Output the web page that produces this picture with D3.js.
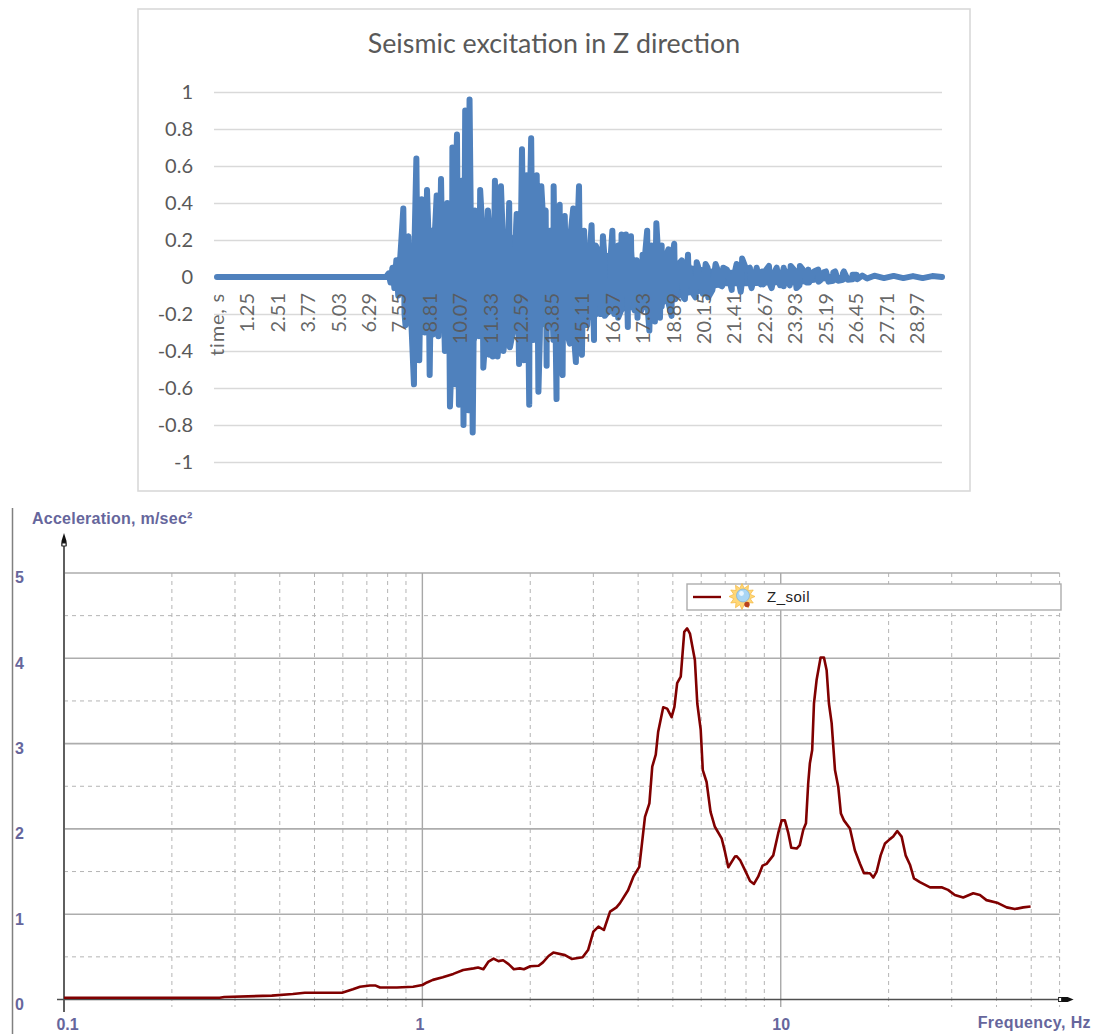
<!DOCTYPE html>
<html>
<head>
<meta charset="utf-8">
<style>
  html, body { margin: 0; padding: 0; background: #fff; }
  svg { display: block; }
</style>
<script src="https://cdn.jsdelivr.net/npm/d3@7"></script>
</head>
<body>
<div id="wrapper"></div>
<script>
// Seismic excitation, values
const quietTime = [0, 3.5, 7.0];
const quietValue = [0, 0, 0];
const onsetTime = [7.1, 7.18, 7.26, 7.34, 7.42, 7.5, 7.58];
const onsetValue = [0.02, -0.03, 0.05, -0.06, 0.09, -0.1, 0.1];
// tallest spikes above zero
const upTime = [7.71, 7.92, 8.25, 8.47, 8.69, 8.88, 9.09, 9.27, 9.53, 9.74, 9.93, 10.12, 10.27, 10.45, 10.67, 10.89, 11.21, 11.5, 11.75, 12.09, 12.4, 12.62, 12.81, 13.0, 13.23, 13.42, 13.6, 13.93, 14.18, 14.39, 14.74, 14.98, 15.19, 15.5, 15.67, 15.97, 16.36, 16.6, 16.74, 16.92, 17.13, 17.36, 17.61, 17.8, 17.98, 18.18, 18.4, 18.68, 18.92, 19.23, 19.49, 19.85, 20.22, 20.63, 20.95, 21.5, 21.73, 22.05, 22.33, 22.56, 22.84, 23.16, 23.45, 23.74, 24.12, 24.47, 24.88, 25.2, 25.58, 25.94, 26.47];
const upValue = [0.37, 0.22, 0.64, 0.42, 0.47, 0.25, 0.44, 0.53, 0.4, 0.7, 0.77, 0.52, 0.9, 0.96, 0.36, 0.47, 0.36, 0.52, 0.49, 0.4, 0.34, 0.69, 0.55, 0.75, 0.55, 0.49, 0.36, 0.49, 0.39, 0.33, 0.37, 0.49, 0.25, 0.28, 0.17, 0.22, 0.25, 0.17, 0.23, 0.23, 0.22, 0.09, 0.12, 0.25, 0.17, 0.29, 0.17, 0.15, 0.18, 0.09, 0.12, 0.08, 0.07, 0.07, 0.05, 0.07, 0.1, 0.05, 0.05, 0.03, 0.06, 0.05, 0.05, 0.06, 0.06, 0.04, 0.04, 0.03, 0.03, 0.03, 0.012];
// deepest spikes below zero
const downTime = [7.8, 8.15, 8.37, 8.8, 8.95, 9.43, 9.64, 9.85, 10.01, 10.2, 10.4, 10.58, 10.77, 11.02, 11.27, 11.41, 11.61, 11.85, 12.12, 12.5, 12.7, 12.92, 13.3, 13.64, 14.05, 14.3, 14.6, 14.85, 15.1, 15.6, 16.05, 16.26, 16.6, 17.0, 17.4, 17.89, 18.12, 18.33, 18.81, 19.36, 19.8, 20.33, 20.75, 21.3, 21.67, 22.12, 22.6, 22.95, 23.45, 23.98, 24.4, 24.95, 25.5, 25.9, 26.3];
const downValue = [-0.26, -0.58, -0.45, -0.53, -0.31, -0.4, -0.7, -0.58, -0.69, -0.8, -0.72, -0.84, -0.25, -0.49, -0.42, -0.43, -0.43, -0.4, -0.38, -0.47, -0.45, -0.69, -0.62, -0.48, -0.66, -0.53, -0.36, -0.46, -0.42, -0.34, -0.21, -0.18, -0.22, -0.27, -0.22, -0.29, -0.24, -0.22, -0.21, -0.12, -0.11, -0.11, -0.04, -0.07, -0.08, -0.06, -0.04, -0.06, -0.05, -0.06, -0.03, -0.02, -0.02, -0.015, -0.012];
// dense oscillation between the spikes
const bodyTime = [7.62, 7.76, 7.9, 8.04, 8.18, 8.32, 8.46, 8.6, 8.74, 8.88, 9.02, 9.16, 9.3, 9.44, 9.58, 9.72, 9.86, 10.0, 10.14, 10.28, 10.42, 10.56, 10.7, 10.84, 10.98, 11.12, 11.26, 11.4, 11.54, 11.68, 11.82, 11.96, 12.1, 12.24, 12.38, 12.52, 12.66, 12.8, 12.94, 13.08, 13.22, 13.36, 13.5, 13.64, 13.78, 13.92, 14.06, 14.2, 14.34, 14.48, 14.62, 14.76, 14.9, 15.04, 15.18, 15.32, 15.46, 15.6, 15.74, 15.88, 16.02, 16.16, 16.3, 16.44, 16.58, 16.72, 16.86, 17.0, 17.14, 17.28, 17.42, 17.56, 17.7, 17.84, 17.98, 18.12, 18.26, 18.4, 18.54, 18.68, 18.82, 18.96, 19.1, 19.3, 19.5, 19.7, 19.9, 20.1, 20.3, 20.5, 20.7, 20.9, 21.1, 21.3, 21.5, 21.7, 21.9, 22.1, 22.3, 22.5, 22.7, 22.9, 23.1, 23.3, 23.5, 23.7, 23.9, 24.1, 24.3, 24.5, 24.7, 24.9, 25.1, 25.3, 25.5, 25.7, 25.9, 26.1, 26.3, 26.5, 26.7, 26.9, 27.2, 27.6, 28, 28.4, 28.8, 29.2, 29.6, 30];
const bodyValue = [0.18, -0.2, 0.2, -0.24, 0.22, -0.28, 0.26, -0.3, 0.27, -0.3, 0.25, -0.32, 0.3, -0.35, 0.3, -0.38, 0.32, -0.42, 0.33, -0.45, 0.36, -0.42, 0.3, -0.32, 0.26, -0.3, 0.26, -0.36, 0.25, -0.34, 0.24, -0.3, 0.22, -0.3, 0.28, -0.34, 0.32, -0.36, 0.36, -0.34, 0.34, -0.32, 0.3, -0.3, 0.25, -0.34, 0.26, -0.32, 0.22, -0.3, 0.22, -0.3, 0.2, -0.3, 0.2, -0.26, 0.2, -0.24, 0.15, -0.2, 0.13, -0.19, 0.13, -0.2, 0.14, -0.18, 0.15, -0.17, 0.14, -0.18, 0.08, -0.18, 0.1, -0.2, 0.12, -0.18, 0.11, -0.16, 0.1, -0.14, 0.09, -0.12, 0.07, -0.11, 0.07, -0.09, 0.06, -0.09, 0.05, -0.07, 0.045, -0.05, 0.04, -0.05, 0.045, -0.05, 0.04, -0.05, 0.035, -0.04, 0.035, -0.045, 0.035, -0.045, 0.035, -0.045, 0.035, -0.045, 0.03, -0.03, 0.03, -0.025, 0.025, -0.025, 0.025, -0.02, 0.02, -0.015, 0.012, -0.012, 0.008, -0.008, 0.007, -0.006, 0.006, -0.006, 0.005, -0.006, 0.005, 0];
// solid band that the oscillation fills at this scale
const bandTime = [7.5, 8, 8.5, 9, 9.5, 10, 10.5, 11, 11.5, 12, 12.5, 13, 13.5, 14, 14.5, 15, 15.5, 16, 16.5, 17, 17.5, 18, 18.5, 19, 19.5, 20, 20.5, 21, 22, 23, 24, 25, 26, 27, 30];
const bandUpper = [0.06, 0.18, 0.22, 0.22, 0.27, 0.28, 0.32, 0.24, 0.22, 0.2, 0.26, 0.32, 0.27, 0.22, 0.2, 0.18, 0.18, 0.13, 0.13, 0.14, 0.08, 0.12, 0.1, 0.07, 0.065, 0.055, 0.045, 0.04, 0.035, 0.03, 0.03, 0.022, 0.008, 0.006, 0.006];
const bandLower = [-0.06, -0.18, -0.26, -0.27, -0.3, -0.36, -0.4, -0.28, -0.3, -0.27, -0.3, -0.32, -0.27, -0.3, -0.27, -0.27, -0.23, -0.2, -0.2, -0.18, -0.18, -0.18, -0.15, -0.12, -0.1, -0.09, -0.065, -0.05, -0.05, -0.045, -0.045, -0.025, -0.01, -0.006, -0.006];
const excitationTicks = [-1, -0.8, -0.6, -0.4, -0.2, 0, 0.2, 0.4, 0.6, 0.8, 1];
const timeTickValues = [0, 1.25, 2.51, 3.77, 5.03, 6.29, 7.55, 8.81, 10.07, 11.33, 12.59, 13.85, 15.11, 16.37, 17.63, 18.89, 20.15, 21.41, 22.67, 23.93, 25.19, 26.45, 27.71, 28.97];
const timeTickLabels = ["time, s", "1.25", "2.51", "3.77", "5.03", "6.29", "7.55", "8.81", "10.07", "11.33", "12.59", "13.85", "15.11", "16.37", "17.63", "18.89", "20.15", "21.41", "22.67", "23.93", "25.19", "26.45", "27.71", "28.97"];

// Z_soil spectrum
const soilFrequency = [0.1, 0.272, 0.28, 0.38, 0.435, 0.47, 0.597, 0.64, 0.67, 0.714, 0.738, 0.762, 0.849, 0.942, 1.0, 1.03, 1.07, 1.14, 1.22, 1.3, 1.39, 1.43, 1.48, 1.53, 1.58, 1.63, 1.68, 1.74, 1.8, 1.87, 1.92, 2.0, 2.11, 2.17, 2.25, 2.32, 2.5, 2.61, 2.8, 2.9, 3.0, 3.1, 3.21, 3.34, 3.48, 3.56, 3.75, 3.88, 4.03, 4.09, 4.18, 4.3, 4.38, 4.48, 4.55, 4.7, 4.82, 4.96, 5.05, 5.14, 5.26, 5.38, 5.48, 5.58, 5.76, 5.85, 5.98, 6.06, 6.21, 6.37, 6.55, 6.84, 6.99, 7.14, 7.45, 7.53, 7.7, 7.94, 8.21, 8.42, 8.65, 8.9, 9.13, 9.53, 9.84, 10.06, 10.27, 10.5, 10.7, 11.08, 11.3, 11.56, 11.76, 11.93, 12.06, 12.24, 12.38, 12.59, 12.92, 13.2, 13.43, 13.63, 13.87, 14.17, 14.47, 14.72, 15.01, 15.6, 16.1, 16.63, 17.07, 17.74, 18.12, 18.52, 19.0, 19.54, 20.17, 20.6, 21.14, 21.74, 22.31, 22.94, 23.53, 24.45, 26.1, 28.1, 29.3, 30.6, 32.3, 34.45, 35.96, 37.5, 40.4, 42.7, 45.0, 47.5, 49.8];
const soilAcceleration = [0.02, 0.02, 0.03, 0.045, 0.065, 0.08, 0.08, 0.12, 0.15, 0.165, 0.165, 0.14, 0.14, 0.15, 0.17, 0.2, 0.23, 0.26, 0.3, 0.345, 0.365, 0.375, 0.355, 0.445, 0.48, 0.45, 0.46, 0.415, 0.355, 0.365, 0.355, 0.39, 0.395, 0.435, 0.51, 0.55, 0.52, 0.475, 0.495, 0.58, 0.795, 0.855, 0.815, 1.03, 1.08, 1.13, 1.28, 1.44, 1.555, 1.79, 2.14, 2.3, 2.73, 2.87, 3.14, 3.425, 3.41, 3.31, 3.43, 3.71, 3.785, 4.31, 4.35, 4.29, 3.98, 3.47, 3.16, 2.69, 2.55, 2.2, 2.025, 1.89, 1.73, 1.55, 1.675, 1.68, 1.635, 1.52, 1.39, 1.355, 1.44, 1.57, 1.59, 1.69, 1.95, 2.1, 2.1, 1.95, 1.78, 1.77, 1.81, 1.99, 2.065, 2.535, 2.77, 2.925, 3.47, 3.745, 4.01, 4.01, 3.86, 3.47, 3.24, 2.69, 2.495, 2.18, 2.1, 2.005, 1.75, 1.595, 1.48, 1.48, 1.43, 1.5, 1.69, 1.83, 1.88, 1.91, 1.975, 1.91, 1.69, 1.58, 1.42, 1.375, 1.315, 1.315, 1.285, 1.225, 1.195, 1.245, 1.225, 1.165, 1.13, 1.08, 1.06, 1.08, 1.09];
const accelerationTicks = [0, 1, 2, 3, 4, 5];
const accelerationHalfTicks = [0.5, 1.5, 2.5, 3.5, 4.5];
const frequencyLabels = [0.1, 1, 10];
const frequencyMinor = [0.2, 0.3, 0.4, 0.5, 0.6, 0.7, 0.8, 0.9, 2, 3, 4, 5, 6, 7, 8, 9, 20, 30, 40, 50, 60];

const wrapper = d3.select("#wrapper").append("svg")
  .attr("width", 1096)
  .attr("height", 1034);

// 1. Top chart
const topPanel = { left: 138, right: 970, top: 9, bottom: 491 };
const excelGrey = "#595959";
const excelFont = "Lato, Carlito, sans-serif";
const excitationBlue = "#4f81bd";

wrapper.append("rect")
  .attr("x", topPanel.left)
  .attr("y", topPanel.top)
  .attr("width", topPanel.right - topPanel.left)
  .attr("height", topPanel.bottom - topPanel.top)
  .attr("fill", "#fff")
  .attr("stroke", "#d9d9d9")
  .attr("stroke-width", 1.6);

wrapper.append("text")
  .attr("x", 554)
  .attr("y", 53)
  .attr("text-anchor", "middle")
  .style("font-family", excelFont)
  .style("font-size", "26.8px")
  .style("fill", excelGrey)
  .text("Seismic excitation in Z direction");

const timeScale = d3.scaleLinear().domain([0, 30]).range([217, 942]);
const excitationScale = d3.scaleLinear().domain([-1, 1]).range([462, 92]);

const excitationAxis = wrapper.append("g")
  .attr("transform", "translate(214,0)")
  .call(d3.axisLeft(excitationScale)
    .tickValues(excitationTicks)
    .tickSize(-728)
    .tickPadding(21)
    .tickFormat((d) => String(d)));
excitationAxis.select(".domain").remove();
excitationAxis.selectAll("line").attr("stroke", "#d9d9d9").attr("stroke-width", 1.6);
excitationAxis.selectAll("text")
  .style("font-family", excelFont)
  .style("font-size", "20px")
  .style("fill", excelGrey);

wrapper.append("path")
  .datum(bandTime.map((t, i) => ({ t, upper: bandUpper[i], lower: bandLower[i] })))
  .attr("fill", excitationBlue)
  .attr("d", d3.area()
    .x((d) => timeScale(d.t))
    .y0((d) => excitationScale(d.lower))
    .y1((d) => excitationScale(d.upper)));

const toPoints = (times, values) => times.map((t, i) => ({ t, v: values[i] }));
const excitation = [
  ...toPoints(quietTime, quietValue),
  ...toPoints(onsetTime, onsetValue),
  ...toPoints(upTime, upValue),
  ...toPoints(downTime, downValue),
  ...toPoints(bodyTime, bodyValue),
].sort((a, b) => a.t - b.t);

wrapper.append("path")
  .datum(excitation)
  .attr("fill", "none")
  .attr("stroke", excitationBlue)
  .attr("stroke-width", 6)
  .attr("stroke-linecap", "round")
  .attr("stroke-linejoin", "round")
  .attr("d", d3.line().x((d) => timeScale(d.t)).y((d) => excitationScale(d.v)));

wrapper.append("g")
  .selectAll("text")
  .data(timeTickValues)
  .enter()
  .append("text")
  .attr("transform", (d) => `translate(${timeScale(d)},293) rotate(-90)`)
  .attr("dy", "0.35em")
  .attr("text-anchor", "end")
  .style("font-family", excelFont)
  .style("font-size", "20px")
  .style("letter-spacing", (d, i) => (i === 0 ? "0.8px" : "0"))
  .style("fill", excelGrey)
  .style("fill-opacity", 0.92)
  .text((d, i) => timeTickLabels[i]);

// 2. Bottom chart
const labelBlue = "#66669c";
const labelFont = "'Liberation Sans', Arial, sans-serif";
const frequencyScale = d3.scaleLog().domain([0.1, 60]).range([64, 1059.6]);
const accelerationScale = d3.scaleLinear().domain([0, 5]).range([999.5, 573]);
const plotLeft = frequencyScale.range()[0];
const plotRight = frequencyScale.range()[1];
const gridBottom = 1007;

wrapper.append("line")
  .attr("x1", 12.5).attr("x2", 12.5)
  .attr("y1", 508).attr("y2", 1034)
  .attr("stroke", "#808080")
  .attr("stroke-width", 1.5);

const gridGroup = wrapper.append("g");
gridGroup.selectAll(".hHalf")
  .data(accelerationHalfTicks)
  .enter().append("line")
  .attr("x1", plotLeft).attr("x2", plotRight)
  .attr("y1", accelerationScale).attr("y2", accelerationScale)
  .attr("stroke", "#b4b4b4")
  .attr("stroke-dasharray", "4 4");
gridGroup.selectAll(".vMinor")
  .data(frequencyMinor)
  .enter().append("line")
  .attr("x1", frequencyScale).attr("x2", frequencyScale)
  .attr("y1", accelerationScale(5)).attr("y2", gridBottom)
  .attr("stroke", "#b4b4b4")
  .attr("stroke-dasharray", "4 4");
gridGroup.selectAll(".hMajor")
  .data(accelerationTicks.filter((d) => d > 0))
  .enter().append("line")
  .attr("x1", plotLeft).attr("x2", plotRight)
  .attr("y1", accelerationScale).attr("y2", accelerationScale)
  .attr("stroke", "#adadad")
  .attr("stroke-width", 1.6);
gridGroup.selectAll(".vMajor")
  .data([1, 10])
  .enter().append("line")
  .attr("x1", frequencyScale).attr("x2", frequencyScale)
  .attr("y1", accelerationScale(5)).attr("y2", gridBottom)
  .attr("stroke", "#a8a8a8")
  .attr("stroke-width", 1.4);

// Akselit
const accelerationAxis = wrapper.append("g")
  .attr("transform", `translate(${plotLeft},0)`)
  .call(d3.axisLeft(accelerationScale)
    .tickValues(accelerationTicks)
    .tickSize(0)
    .tickPadding(40)
    .tickFormat((d) => d));
accelerationAxis.select(".domain").remove();
accelerationAxis.selectAll("text")
  .attr("dy", "0.62em")
  .style("font-family", labelFont)
  .style("font-weight", "bold")
  .style("font-size", "16px")
  .style("fill", labelBlue);

const frequencyAxis = wrapper.append("g")
  .attr("transform", `translate(0,${accelerationScale(0)})`)
  .call(d3.axisBottom(frequencyScale)
    .tickValues(frequencyLabels)
    .tickSize(0)
    .tickPadding(19)
    .tickFormat((d) => d));
frequencyAxis.select(".domain").remove();
frequencyAxis.selectAll("text")
  .style("font-family", labelFont)
  .style("font-weight", "bold")
  .style("font-size", "16px")
  .style("fill", labelBlue);
frequencyAxis.selectAll(".tick").filter((d) => d === 0.1)
  .select("text").attr("dx", 3);
frequencyAxis.selectAll(".tick").filter((d) => d === 1)
  .select("text").attr("dx", -3);

wrapper.append("line")
  .attr("x1", plotLeft).attr("x2", plotLeft)
  .attr("y1", 540).attr("y2", 1012)
  .attr("stroke", "#5f5f5f")
  .attr("stroke-width", 2);
wrapper.append("line")
  .attr("x1", 57).attr("x2", plotRight)
  .attr("y1", accelerationScale(0)).attr("y2", accelerationScale(0))
  .attr("stroke", "#4f4f4f")
  .attr("stroke-width", 1.6);

// Nuolenpäät
wrapper.append("path")
  .attr("d", `M${plotLeft},533 L${plotLeft + 2.5},541 V546 H${plotLeft - 2.5} V541 Z`)
  .attr("fill", "#111");
wrapper.append("rect")
  .attr("x", plotLeft - 2).attr("y", 543)
  .attr("width", 4).attr("height", 3)
  .attr("fill", "#fff").attr("stroke", "#222");
wrapper.append("path")
  .attr("d", `M${plotRight - 1},${accelerationScale(0) - 2.5} H${plotRight + 8} L${plotRight + 14},${accelerationScale(0)} L${plotRight + 8},${accelerationScale(0) + 2.5} H${plotRight - 1} Z`)
  .attr("fill", "#111");
wrapper.append("rect")
  .attr("x", plotRight - 1).attr("y", accelerationScale(0) - 2)
  .attr("width", 3).attr("height", 4)
  .attr("fill", "#fff").attr("stroke", "#222");

wrapper.append("path")
  .datum(soilFrequency.map((f, i) => ({ f, a: soilAcceleration[i] })))
  .attr("fill", "none")
  .attr("stroke", "#800000")
  .attr("stroke-width", 2.6)
  .attr("stroke-linejoin", "round")
  .attr("d", d3.line().x((d) => frequencyScale(d.f)).y((d) => accelerationScale(d.a)));

wrapper.append("text")
  .attr("x", 32)
  .attr("y", 524)
  .style("font-family", labelFont)
  .style("font-weight", "bold")
  .style("font-size", "16px")
  .style("letter-spacing", "0.25px")
  .style("fill", labelBlue)
  .text("Acceleration, m/sec²");

wrapper.append("text")
  .attr("x", 1091)
  .attr("y", 1028)
  .attr("text-anchor", "end")
  .style("font-family", labelFont)
  .style("font-weight", "bold")
  .style("font-size", "16px")
  .style("letter-spacing", "0.4px")
  .style("fill", labelBlue)
  .text("Frequency, Hz");

// Legend
const legend = wrapper.append("g").attr("transform", "translate(687,584)");
legend.append("rect")
  .attr("width", 374).attr("height", 26)
  .attr("fill", "#fff")
  .attr("stroke", "#adadad")
  .attr("stroke-width", 1.4);
legend.append("line")
  .attr("x1", 6).attr("x2", 34)
  .attr("y1", 13).attr("y2", 13)
  .attr("stroke", "#800000")
  .attr("stroke-width", 2.4);

const icon = legend.append("g").attr("transform", "translate(55,12.5)");
const rayRadius = (i) => (i % 2 === 0 ? 13 : 8.5);
icon.append("polygon")
  .attr("points", d3.range(24).map((i) => {
    const a = (i * Math.PI) / 12;
    const r = rayRadius(i);
    return `${r * Math.cos(a)},${r * Math.sin(a)}`;
  }).join(" "))
  .attr("fill", "#ffd777")
  .attr("stroke", "#f3b73f")
  .attr("stroke-width", 0.7);
icon.append("circle").attr("cx", 1).attr("cy", -1).attr("r", 6.5).attr("fill", "#a9d6f5").attr("stroke", "#6ea6d6").attr("stroke-width", 0.6);
icon.append("circle").attr("cx", -0.5).attr("cy", -3).attr("r", 2.4).attr("fill", "#e9f6ff");
icon.append("circle").attr("cx", 5).attr("cy", 8).attr("r", 2.7).attr("fill", "#b8431e");

legend.append("text")
  .attr("x", 80)
  .attr("y", 18)
  .style("font-family", labelFont)
  .style("font-size", "15px")
  .style("letter-spacing", "0.5px")
  .style("fill", "#222")
  .text("Z_soil");
</script>
</body>
</html>
